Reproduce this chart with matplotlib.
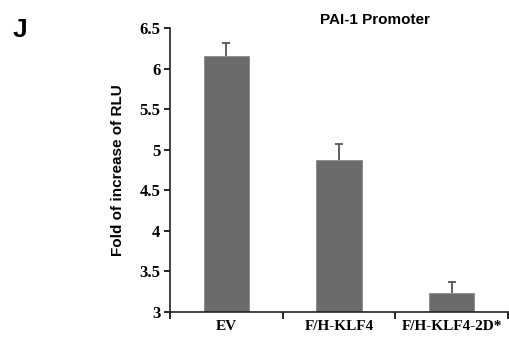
import numpy as np
import matplotlib.pyplot as plt

categories = ['EV', 'F/H-KLF4', 'F/H-KLF4-2D*']
values = [6.16, 4.87, 3.24]
errors = [0.15, 0.20, 0.13]
yticks = [3, 3.5, 4, 4.5, 5, 5.5, 6, 6.5]
ytick_labels = ['3', '3.5', '4', '4.5', '5', '5.5', '6', '6.5']

fig = plt.figure(figsize=(5.09, 3.37), dpi=100)
ax = fig.add_axes([0.334, 0.074, 0.664, 0.843])

x = np.arange(len(categories))
bars = ax.bar(x, values, width=0.4, color='#6b6b6b', edgecolor='#8a8a8a', linewidth=0.6,
              yerr=[np.zeros(len(errors)), errors],
              error_kw=dict(ecolor='#555555', elinewidth=1.3, capsize=3, capthick=1.3))
# only the upper cap is shown
bars.errorbar.lines[1][0].set_visible(False)

ax.set_xlim(-0.5, len(categories) - 0.5)
ax.set_ylim(3, 6.5)
ax.set_yticks(yticks)
ax.set_yticklabels(ytick_labels, family='Liberation Serif', fontweight='bold', fontsize=12)
ax.set_xticks(x)
ax.set_xticklabels(categories, family='Liberation Serif', fontweight='bold', fontsize=11)
ax.set_xticks(np.arange(len(categories) + 1) - 0.5, minor=True)
ax.tick_params(axis='x', which='major', length=0, pad=6)
ax.tick_params(axis='x', which='minor', length=5, width=1.2, direction='out')
ax.tick_params(axis='y', length=4, width=1.2, direction='out', pad=3)

for side in ['top', 'right']:
    ax.spines[side].set_visible(False)
for side in ['left', 'bottom']:
    ax.spines[side].set_linewidth(1.2)
    ax.spines[side].set_color('#222222')

ax.set_ylabel('Fold of increase of RLU', family='Liberation Sans', fontweight='bold', fontsize=11, labelpad=10)
fig.text(0.737, 0.94, 'PAI-1 Promoter', family='Liberation Sans', fontweight='bold', fontsize=11, ha='center', va='center')
fig.text(0.024, 0.91, 'J', family='Liberation Sans', fontweight='bold', fontsize=19, ha='left', va='center')

fig.savefig('out.png', dpi=100)
